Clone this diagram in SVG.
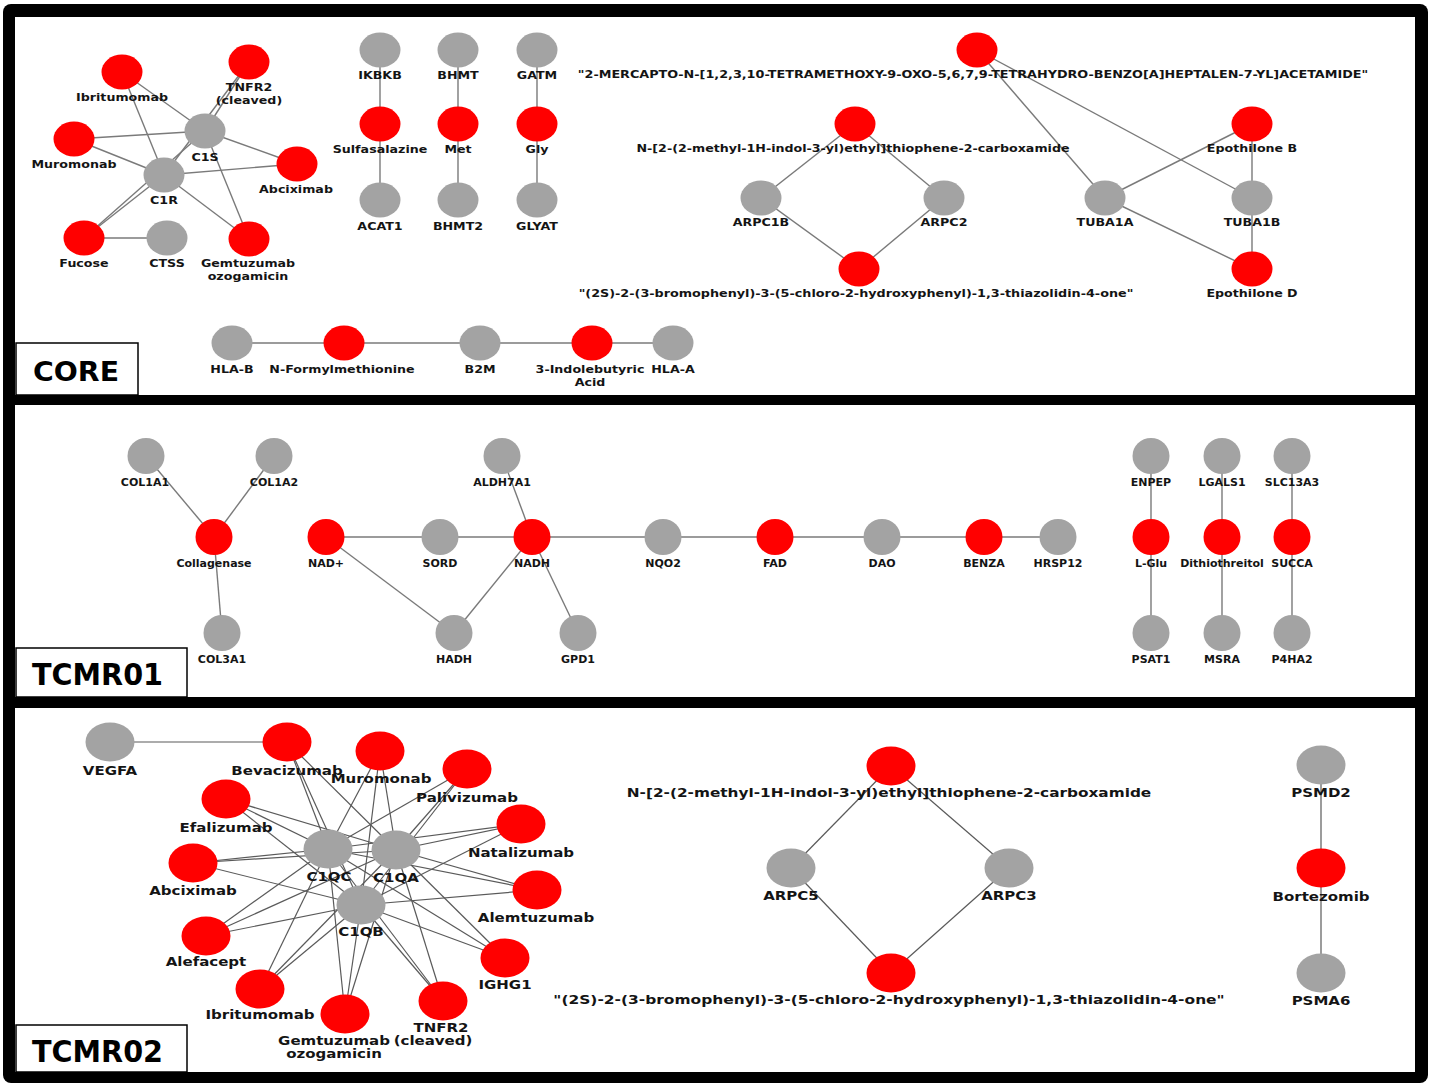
<svg xmlns="http://www.w3.org/2000/svg" width="1431" height="1085" viewBox="0 0 1431 1085">
<style>
.red{fill:#ff0000}
.gray{fill:#a3a3a3}
.t{font-family:"DejaVu Sans",Verdana,sans-serif;font-weight:700;fill:#141414;text-anchor:middle}
.s11{font-size:11px}
.s12{font-size:12px}
.big{font-family:"DejaVu Sans",Verdana,sans-serif;font-weight:700;fill:#000}
.box{fill:#fff;stroke:#000;stroke-width:1.5}
.panel{fill:#fff}
</style>
<rect width="1431" height="1085" fill="#fff"/>
<rect x="3" y="4" width="1425" height="1079" rx="8" fill="#000"/>
<rect class="panel" x="15" y="17" width="1400" height="378"/>
<rect class="panel" x="15" y="405" width="1400" height="292"/>
<rect class="panel" x="15" y="708" width="1400" height="364"/>

<g id="connectors" fill="none">
 <g id="core-edges" stroke="#7a7a7a" stroke-width="1.4">
  <line x1="122" y1="72" x2="205" y2="131"/><line x1="122" y1="72" x2="164" y2="175"/>
  <line x1="249" y1="62" x2="205" y2="131"/><line x1="249" y1="62" x2="164" y2="175"/>
  <line x1="74" y1="139" x2="205" y2="131"/><line x1="74" y1="139" x2="164" y2="175"/>
  <line x1="297" y1="164" x2="205" y2="131"/><line x1="297" y1="164" x2="164" y2="175"/>
  <line x1="84" y1="238" x2="205" y2="131"/><line x1="84" y1="238" x2="164" y2="175"/>
  <line x1="249" y1="239" x2="205" y2="131"/><line x1="249" y1="239" x2="164" y2="175"/>
  <line x1="84" y1="238" x2="167" y2="238"/>
  <line x1="380" y1="50" x2="380" y2="200"/><line x1="458" y1="50" x2="458" y2="200"/><line x1="537" y1="50" x2="537" y2="200"/>
  <line x1="977" y1="50" x2="1105" y2="198"/><line x1="977" y1="50" x2="1252" y2="198"/>
  <line x1="1252" y1="124" x2="1105" y2="198"/><line x1="1252" y1="124" x2="1252" y2="198"/>
  <line x1="1252" y1="269" x2="1105" y2="198"/><line x1="1252" y1="269" x2="1252" y2="198"/>
  <line x1="855" y1="124" x2="761" y2="198"/><line x1="855" y1="124" x2="944" y2="198"/>
  <line x1="859" y1="269" x2="761" y2="198"/><line x1="859" y1="269" x2="944" y2="198"/>
  <line x1="232" y1="343" x2="673" y2="343"/>
 </g>
 <g id="tcmr01-edges" stroke="#7a7a7a" stroke-width="1.4">
  <line x1="146" y1="456" x2="214" y2="537"/><line x1="274" y1="456" x2="214" y2="537"/><line x1="214" y1="537" x2="222" y2="633"/>
  <line x1="326" y1="537" x2="1058" y2="537"/>
  <line x1="326" y1="537" x2="454" y2="633"/><line x1="454" y1="633" x2="532" y2="537"/>
  <line x1="502" y1="456" x2="532" y2="537"/><line x1="532" y1="537" x2="578" y2="633"/>
  <line x1="1151" y1="456" x2="1151" y2="633"/><line x1="1222" y1="456" x2="1222" y2="633"/><line x1="1292" y1="456" x2="1292" y2="633"/>
 </g>
 <g id="tcmr02-edges" stroke="#5a5a5a" stroke-width="1.2">
  <line x1="110" y1="742" x2="287" y2="742"/>
  <line x1="287" y1="742" x2="328" y2="849"/><line x1="287" y1="742" x2="396" y2="850"/><line x1="287" y1="742" x2="361" y2="905"/>
  <line x1="380" y1="751" x2="328" y2="849"/><line x1="380" y1="751" x2="396" y2="850"/><line x1="380" y1="751" x2="361" y2="905"/>
  <line x1="467" y1="769" x2="328" y2="849"/><line x1="467" y1="769" x2="396" y2="850"/><line x1="467" y1="769" x2="361" y2="905"/>
  <line x1="226" y1="799" x2="328" y2="849"/><line x1="226" y1="799" x2="396" y2="850"/><line x1="226" y1="799" x2="361" y2="905"/>
  <line x1="521" y1="824" x2="328" y2="849"/><line x1="521" y1="824" x2="396" y2="850"/><line x1="521" y1="824" x2="361" y2="905"/>
  <line x1="193" y1="863" x2="328" y2="849"/><line x1="193" y1="863" x2="396" y2="850"/><line x1="193" y1="863" x2="361" y2="905"/>
  <line x1="537" y1="890" x2="328" y2="849"/><line x1="537" y1="890" x2="396" y2="850"/><line x1="537" y1="890" x2="361" y2="905"/>
  <line x1="206" y1="936" x2="328" y2="849"/><line x1="206" y1="936" x2="396" y2="850"/><line x1="206" y1="936" x2="361" y2="905"/>
  <line x1="505" y1="958" x2="328" y2="849"/><line x1="505" y1="958" x2="396" y2="850"/><line x1="505" y1="958" x2="361" y2="905"/>
  <line x1="260" y1="989" x2="328" y2="849"/><line x1="260" y1="989" x2="396" y2="850"/><line x1="260" y1="989" x2="361" y2="905"/>
  <line x1="345" y1="1014" x2="328" y2="849"/><line x1="345" y1="1014" x2="396" y2="850"/><line x1="345" y1="1014" x2="361" y2="905"/>
  <line x1="443" y1="1001" x2="328" y2="849"/><line x1="443" y1="1001" x2="396" y2="850"/><line x1="443" y1="1001" x2="361" y2="905"/>
  <line x1="891" y1="766" x2="791" y2="868"/><line x1="891" y1="766" x2="1009" y2="868"/>
  <line x1="891" y1="973" x2="791" y2="868"/><line x1="891" y1="973" x2="1009" y2="868"/>
  <line x1="1321" y1="765" x2="1321" y2="973"/>
 </g>
</g>

<!-- CORE -->
<g id="core-ibritumomab"><ellipse class="red" cx="122" cy="72" rx="20.5" ry="17.5"/><text class="t s11" transform="translate(122 101) scale(1.15 1)">Ibritumomab</text></g>
<g id="core-tnfr2"><ellipse class="red" cx="249" cy="62" rx="20.5" ry="17.5"/><text class="t s11" transform="translate(249 91) scale(1.15 1)">TNFR2</text><text class="t s11" transform="translate(249 104) scale(1.15 1)">(cleaved)</text></g>
<g id="core-c1s"><ellipse class="gray" cx="205" cy="131" rx="20.5" ry="17.5"/><text class="t s11" transform="translate(205 161) scale(1.15 1)">C1S</text></g>
<g id="core-muromonab"><ellipse class="red" cx="74" cy="139" rx="20.5" ry="17.5"/><text class="t s11" transform="translate(74 168) scale(1.15 1)">Muromonab</text></g>
<g id="core-c1r"><ellipse class="gray" cx="164" cy="175" rx="20.5" ry="17.5"/><text class="t s11" transform="translate(164 204) scale(1.15 1)">C1R</text></g>
<g id="core-abciximab"><ellipse class="red" cx="297" cy="164" rx="20.5" ry="17.5"/><text class="t s11" transform="translate(296 193) scale(1.15 1)">Abciximab</text></g>
<g id="core-fucose"><ellipse class="red" cx="84" cy="238" rx="20.5" ry="17.5"/><text class="t s11" transform="translate(84 267) scale(1.15 1)">Fucose</text></g>
<g id="core-ctss"><ellipse class="gray" cx="167" cy="238" rx="20.5" ry="17.5"/><text class="t s11" transform="translate(167 267) scale(1.15 1)">CTSS</text></g>
<g id="core-gemtuzumab"><ellipse class="red" cx="249" cy="239" rx="20.5" ry="17.5"/><text class="t s11" transform="translate(248 267) scale(1.15 1)">Gemtuzumab</text><text class="t s11" transform="translate(248 280) scale(1.15 1)">ozogamicin</text></g>

<g id="core-ikbkb"><ellipse class="gray" cx="380" cy="50" rx="20.5" ry="17.5"/><text class="t s11" transform="translate(380 79) scale(1.15 1)">IKBKB</text></g>
<g id="core-bhmt"><ellipse class="gray" cx="458" cy="50" rx="20.5" ry="17.5"/><text class="t s11" transform="translate(458 79) scale(1.15 1)">BHMT</text></g>
<g id="core-gatm"><ellipse class="gray" cx="537" cy="50" rx="20.5" ry="17.5"/><text class="t s11" transform="translate(537 79) scale(1.15 1)">GATM</text></g>
<g id="core-sulfasalazine"><ellipse class="red" cx="380" cy="124" rx="20.5" ry="17.5"/><text class="t s11" transform="translate(380 153) scale(1.15 1)">Sulfasalazine</text></g>
<g id="core-met"><ellipse class="red" cx="458" cy="124" rx="20.5" ry="17.5"/><text class="t s11" transform="translate(458 153) scale(1.15 1)">Met</text></g>
<g id="core-gly"><ellipse class="red" cx="537" cy="124" rx="20.5" ry="17.5"/><text class="t s11" transform="translate(537 153) scale(1.15 1)">Gly</text></g>
<g id="core-acat1"><ellipse class="gray" cx="380" cy="200" rx="20.5" ry="17.5"/><text class="t s11" transform="translate(380 230) scale(1.15 1)">ACAT1</text></g>
<g id="core-bhmt2"><ellipse class="gray" cx="458" cy="200" rx="20.5" ry="17.5"/><text class="t s11" transform="translate(458 230) scale(1.15 1)">BHMT2</text></g>
<g id="core-glyat"><ellipse class="gray" cx="537" cy="200" rx="20.5" ry="17.5"/><text class="t s11" transform="translate(537 230) scale(1.15 1)">GLYAT</text></g>

<g id="core-mercapto"><ellipse class="red" cx="977" cy="50" rx="20.5" ry="17.5"/><text class="t s11" transform="translate(973 78) scale(1.162 1)">"2-MERCAPTO-N-[1,2,3,10-TETRAMETHOXY-9-OXO-5,6,7,9-TETRAHYDRO-BENZO[A]HEPTALEN-7-YL]ACETAMIDE"</text></g>
<g id="core-carboxamide"><ellipse class="red" cx="855" cy="124" rx="20.5" ry="17.5"/><text class="t s11" transform="translate(853 152) scale(1.15 1)">N-[2-(2-methyl-1H-indol-3-yl)ethyl]thiophene-2-carboxamide</text></g>
<g id="core-arpc1b"><ellipse class="gray" cx="761" cy="198" rx="20.5" ry="17.5"/><text class="t s11" transform="translate(761 226) scale(1.15 1)">ARPC1B</text></g>
<g id="core-arpc2"><ellipse class="gray" cx="944" cy="198" rx="20.5" ry="17.5"/><text class="t s11" transform="translate(944 226) scale(1.15 1)">ARPC2</text></g>
<g id="core-thiazolidinone"><ellipse class="red" cx="859" cy="269" rx="20.5" ry="17.5"/><text class="t s11" transform="translate(856 297) scale(1.162 1)">"(2S)-2-(3-bromophenyl)-3-(5-chloro-2-hydroxyphenyl)-1,3-thiazolidin-4-one"</text></g>
<g id="core-epothilone-b"><ellipse class="red" cx="1252" cy="124" rx="20.5" ry="17.5"/><text class="t s11" transform="translate(1252 152) scale(1.15 1)">Epothilone B</text></g>
<g id="core-tuba1a"><ellipse class="gray" cx="1105" cy="198" rx="20.5" ry="17.5"/><text class="t s11" transform="translate(1105 226) scale(1.15 1)">TUBA1A</text></g>
<g id="core-tuba1b"><ellipse class="gray" cx="1252" cy="198" rx="20.5" ry="17.5"/><text class="t s11" transform="translate(1252 226) scale(1.15 1)">TUBA1B</text></g>
<g id="core-epothilone-d"><ellipse class="red" cx="1252" cy="269" rx="20.5" ry="17.5"/><text class="t s11" transform="translate(1252 297) scale(1.15 1)">Epothilone D</text></g>

<g id="core-hla-b"><ellipse class="gray" cx="232" cy="343" rx="20.5" ry="17.5"/><text class="t s11" transform="translate(232 373) scale(1.15 1)">HLA-B</text></g>
<g id="core-n-formylmethionine"><ellipse class="red" cx="344" cy="343" rx="20.5" ry="17.5"/><text class="t s11" transform="translate(342 373) scale(1.15 1)">N-Formylmethionine</text></g>
<g id="core-b2m"><ellipse class="gray" cx="480" cy="343" rx="20.5" ry="17.5"/><text class="t s11" transform="translate(480 373) scale(1.15 1)">B2M</text></g>
<g id="core-indolebutyric"><ellipse class="red" cx="592" cy="343" rx="20.5" ry="17.5"/><text class="t s11" transform="translate(590 373) scale(1.15 1)">3-Indolebutyric</text><text class="t s11" transform="translate(590 386) scale(1.15 1)">Acid</text></g>
<g id="core-hla-a"><ellipse class="gray" cx="673" cy="343" rx="20.5" ry="17.5"/><text class="t s11" transform="translate(673 373) scale(1.15 1)">HLA-A</text></g>

<g id="label-core"><rect class="box" x="16" y="343" width="122" height="52"/><text class="big" x="33" y="381" font-size="26" textLength="86" lengthAdjust="spacingAndGlyphs">CORE</text></g>

<!-- TCMR01 -->
<g id="t1-col1a1"><ellipse class="gray" cx="146" cy="456" rx="18.5" ry="18"/><text class="t s11" x="145" y="486">COL1A1</text></g>
<g id="t1-col1a2"><ellipse class="gray" cx="274" cy="456" rx="18.5" ry="18"/><text class="t s11" x="274" y="486">COL1A2</text></g>
<g id="t1-collagenase"><ellipse class="red" cx="214" cy="537" rx="18.5" ry="18"/><text class="t s11" x="214" y="567">Collagenase</text></g>
<g id="t1-col3a1"><ellipse class="gray" cx="222" cy="633" rx="18.5" ry="18"/><text class="t s11" x="222" y="663">COL3A1</text></g>
<g id="t1-nad-plus"><ellipse class="red" cx="326" cy="537" rx="18.5" ry="18"/><text class="t s11" x="326" y="567">NAD+</text></g>
<g id="t1-sord"><ellipse class="gray" cx="440" cy="537" rx="18.5" ry="18"/><text class="t s11" x="440" y="567">SORD</text></g>
<g id="t1-nadh"><ellipse class="red" cx="532" cy="537" rx="18.5" ry="18"/><text class="t s11" x="532" y="567">NADH</text></g>
<g id="t1-aldh7a1"><ellipse class="gray" cx="502" cy="456" rx="18.5" ry="18"/><text class="t s11" x="502" y="486">ALDH7A1</text></g>
<g id="t1-hadh"><ellipse class="gray" cx="454" cy="633" rx="18.5" ry="18"/><text class="t s11" x="454" y="663">HADH</text></g>
<g id="t1-gpd1"><ellipse class="gray" cx="578" cy="633" rx="18.5" ry="18"/><text class="t s11" x="578" y="663">GPD1</text></g>
<g id="t1-nqo2"><ellipse class="gray" cx="663" cy="537" rx="18.5" ry="18"/><text class="t s11" x="663" y="567">NQO2</text></g>
<g id="t1-fad"><ellipse class="red" cx="775" cy="537" rx="18.5" ry="18"/><text class="t s11" x="775" y="567">FAD</text></g>
<g id="t1-dao"><ellipse class="gray" cx="882" cy="537" rx="18.5" ry="18"/><text class="t s11" x="882" y="567">DAO</text></g>
<g id="t1-benza"><ellipse class="red" cx="984" cy="537" rx="18.5" ry="18"/><text class="t s11" x="984" y="567">BENZA</text></g>
<g id="t1-hrsp12"><ellipse class="gray" cx="1058" cy="537" rx="18.5" ry="18"/><text class="t s11" x="1058" y="567">HRSP12</text></g>
<g id="t1-enpep"><ellipse class="gray" cx="1151" cy="456" rx="18.5" ry="18"/><text class="t s11" x="1151" y="486">ENPEP</text></g>
<g id="t1-lgals1"><ellipse class="gray" cx="1222" cy="456" rx="18.5" ry="18"/><text class="t s11" x="1222" y="486">LGALS1</text></g>
<g id="t1-slc13a3"><ellipse class="gray" cx="1292" cy="456" rx="18.5" ry="18"/><text class="t s11" x="1292" y="486">SLC13A3</text></g>
<g id="t1-l-glu"><ellipse class="red" cx="1151" cy="537" rx="18.5" ry="18"/><text class="t s11" x="1151" y="567">L-Glu</text></g>
<g id="t1-dithiothreitol"><ellipse class="red" cx="1222" cy="537" rx="18.5" ry="18"/><text class="t s11" x="1222" y="567">Dithiothreitol</text></g>
<g id="t1-succa"><ellipse class="red" cx="1292" cy="537" rx="18.5" ry="18"/><text class="t s11" x="1292" y="567">SUCCA</text></g>
<g id="t1-psat1"><ellipse class="gray" cx="1151" cy="633" rx="18.5" ry="18"/><text class="t s11" x="1151" y="663">PSAT1</text></g>
<g id="t1-msra"><ellipse class="gray" cx="1222" cy="633" rx="18.5" ry="18"/><text class="t s11" x="1222" y="663">MSRA</text></g>
<g id="t1-p4ha2"><ellipse class="gray" cx="1292" cy="633" rx="18.5" ry="18"/><text class="t s11" x="1292" y="663">P4HA2</text></g>

<g id="label-tcmr01"><rect class="box" x="16" y="648" width="171" height="49"/><text class="big" x="32" y="685" font-size="30" textLength="131" lengthAdjust="spacingAndGlyphs">TCMR01</text></g>

<!-- TCMR02 -->
<g id="t2-vegfa"><ellipse class="gray" cx="110" cy="742" rx="24.5" ry="19.5"/><text class="t s12" transform="translate(110 775) scale(1.25 1)">VEGFA</text></g>
<g id="t2-bevacizumab"><ellipse class="red" cx="287" cy="742" rx="24.5" ry="19.5"/><text class="t s12" transform="translate(287 775) scale(1.25 1)">Bevacizumab</text></g>
<g id="t2-muromonab"><ellipse class="red" cx="380" cy="751" rx="24.5" ry="19.5"/><text class="t s12" transform="translate(381 783) scale(1.25 1)">Muromonab</text></g>
<g id="t2-palivizumab"><ellipse class="red" cx="467" cy="769" rx="24.5" ry="19.5"/><text class="t s12" transform="translate(467 802) scale(1.25 1)">Palivizumab</text></g>
<g id="t2-efalizumab"><ellipse class="red" cx="226" cy="799" rx="24.5" ry="19.5"/><text class="t s12" transform="translate(226 832) scale(1.25 1)">Efalizumab</text></g>
<g id="t2-natalizumab"><ellipse class="red" cx="521" cy="824" rx="24.5" ry="19.5"/><text class="t s12" transform="translate(521 857) scale(1.25 1)">Natalizumab</text></g>
<g id="t2-abciximab"><ellipse class="red" cx="193" cy="863" rx="24.5" ry="19.5"/><text class="t s12" transform="translate(193 895) scale(1.25 1)">Abciximab</text></g>
<g id="t2-c1qc"><ellipse class="gray" cx="328" cy="849" rx="24.5" ry="19.5"/><text class="t s12" transform="translate(329 881) scale(1.25 1)">C1QC</text></g>
<g id="t2-c1qa"><ellipse class="gray" cx="396" cy="850" rx="24.5" ry="19.5"/><text class="t s12" transform="translate(396 882) scale(1.25 1)">C1QA</text></g>
<g id="t2-c1qb"><ellipse class="gray" cx="361" cy="905" rx="24.5" ry="19.5"/><text class="t s12" transform="translate(361 936) scale(1.25 1)">C1QB</text></g>
<g id="t2-alemtuzumab"><ellipse class="red" cx="537" cy="890" rx="24.5" ry="19.5"/><text class="t s12" transform="translate(536 922) scale(1.25 1)">Alemtuzumab</text></g>
<g id="t2-alefacept"><ellipse class="red" cx="206" cy="936" rx="24.5" ry="19.5"/><text class="t s12" transform="translate(206 966) scale(1.25 1)">Alefacept</text></g>
<g id="t2-ighg1"><ellipse class="red" cx="505" cy="958" rx="24.5" ry="19.5"/><text class="t s12" transform="translate(505 989) scale(1.25 1)">IGHG1</text></g>
<g id="t2-ibritumomab"><ellipse class="red" cx="260" cy="989" rx="24.5" ry="19.5"/><text class="t s12" transform="translate(260 1019) scale(1.25 1)">Ibritumomab</text></g>
<g id="t2-gemtuzumab"><ellipse class="red" cx="345" cy="1014" rx="24.5" ry="19.5"/><text class="t s12" transform="translate(334 1045) scale(1.25 1)">Gemtuzumab</text><text class="t s12" transform="translate(334 1058) scale(1.25 1)">ozogamicin</text></g>
<g id="t2-tnfr2"><ellipse class="red" cx="443" cy="1001" rx="24.5" ry="19.5"/><text class="t s12" transform="translate(441 1032) scale(1.25 1)">TNFR2</text><text class="t s12" transform="translate(433 1045) scale(1.25 1)">(cleaved)</text></g>

<g id="t2-carboxamide"><ellipse class="red" cx="891" cy="766" rx="24.5" ry="19.5"/><text class="t s12" transform="translate(889 797) scale(1.277 1)">N-[2-(2-methyl-1H-indol-3-yl)ethyl]thiophene-2-carboxamide</text></g>
<g id="t2-arpc5"><ellipse class="gray" cx="791" cy="868" rx="24.5" ry="19.5"/><text class="t s12" transform="translate(791 900) scale(1.25 1)">ARPC5</text></g>
<g id="t2-arpc3"><ellipse class="gray" cx="1009" cy="868" rx="24.5" ry="19.5"/><text class="t s12" transform="translate(1009 900) scale(1.25 1)">ARPC3</text></g>
<g id="t2-thiazolidinone"><ellipse class="red" cx="891" cy="973" rx="24.5" ry="19.5"/><text class="t s12" transform="translate(889 1004) scale(1.288 1)">"(2S)-2-(3-bromophenyl)-3-(5-chloro-2-hydroxyphenyl)-1,3-thiazolidin-4-one"</text></g>
<g id="t2-psmd2"><ellipse class="gray" cx="1321" cy="765" rx="24.5" ry="19.5"/><text class="t s12" transform="translate(1321 797) scale(1.25 1)">PSMD2</text></g>
<g id="t2-bortezomib"><ellipse class="red" cx="1321" cy="868" rx="24.5" ry="19.5"/><text class="t s12" transform="translate(1321 901) scale(1.25 1)">Bortezomib</text></g>
<g id="t2-psma6"><ellipse class="gray" cx="1321" cy="973" rx="24.5" ry="19.5"/><text class="t s12" transform="translate(1321 1005) scale(1.25 1)">PSMA6</text></g>

<g id="label-tcmr02"><rect class="box" x="16" y="1025" width="171" height="47"/><text class="big" x="32" y="1062" font-size="30" textLength="131" lengthAdjust="spacingAndGlyphs">TCMR02</text></g>
</svg>
